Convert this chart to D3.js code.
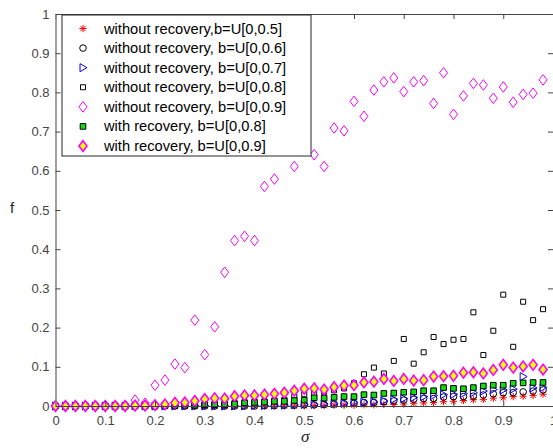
<!DOCTYPE html>
<html>
<head>
<meta charset="utf-8">
<script src="https://cdn.jsdelivr.net/npm/d3@7"></script>
<style>
  html, body { margin: 0; padding: 0; background: #fff; }
  svg { display: block; }
  text { font-family: "Liberation Sans", Arial, sans-serif; }
</style>
</head>
<body>
<svg id="chart" width="553" height="448"></svg>
<script>
// sigma sample points
const sigma = [0.00,0.02,0.04,0.06,0.08,0.10,0.12,0.14,0.16,0.18,
               0.20,0.22,0.24,0.26,0.28,0.30,0.32,0.34,0.36,0.38,
               0.40,0.42,0.44,0.46,0.48,0.50,0.52,0.54,0.56,0.58,
               0.60,0.62,0.64,0.66,0.68,0.70,0.72,0.74,0.76,0.78,
               0.80,0.82,0.84,0.86,0.88,0.90,0.92,0.94,0.96,0.98];

// without recovery, b = U[0,0.5]
const noRec05 = [0,0,0,0,0,0,0,0,0,0,
                 0,0,0,0,0,0,0,0,0,0,
                 0,0,0,0,0,0,0.001,0.001,0.002,0.002,
                 0.002,0.003,0.003,0.004,0.004,0.005,0.007,0.008,0.009,0.011,
                 0.012,0.014,0.016,0.017,0.020,0.021,0.024,0.025,0.027,0.030];
// without recovery, b = U[0,0.6]
const noRec06 = [0,0,0,0,0,0,0,0,0,0,
                 0,0,0,0,0,0,0,0,0,0,
                 0,0.001,0.001,0.002,0.002,0.003,0.003,0.004,0.005,0.006,
                 0.007,0.009,0.009,0.011,0.013,0.015,0.017,0.019,0.019,0.023,
                 0.024,0.024,0.025,0.028,0.031,0.034,0.034,0.036,0.038,0.041];
// without recovery, b = U[0,0.7]
const noRec07 = [0,0,0,0,0,0,0,0,0,0,
                 0,0,0,0,0,0,0,0,0,0,
                 0.001,0.001,0.002,0.002,0.003,0.004,0.004,0.005,0.006,0.007,
                 0.009,0.010,0.011,0.013,0.017,0.019,0.022,0.024,0.027,0.029,
                 0.030,0.032,0.034,0.038,0.042,0.041,0.043,0.075,0.046,0.047];
// without recovery, b = U[0,0.8]
const noRec08 = [0,0,0,0,0,0,0,0,0,0,
                 0.001,0.002,0.002,0.003,0.004,0.005,0.006,0.006,0.008,0.010,
                 0.011,0.012,0.014,0.016,0.024,0.030,0.032,0.036,0.040,0.045,
                 0.058,0.081,0.098,0.083,0.115,0.171,0.108,0.137,0.176,0.158,
                 0.169,0.171,0.239,0.130,0.192,0.284,0.151,0.266,0.219,0.247];
// without recovery, b = U[0,0.9]
const noRec09 = [0,0,0,0,0,0,0,0.001,0.015,0.007,
                 0.053,0.066,0.107,0.098,0.219,0.131,0.202,0.341,0.422,0.433,
                 0.422,0.560,0.579,0.660,0.611,0.670,0.641,0.611,0.709,0.702,
                 0.777,0.739,0.806,0.827,0.837,0.802,0.827,0.830,0.772,0.850,
                 0.744,0.791,0.823,0.819,0.785,0.814,0.775,0.795,0.798,0.832];
// with recovery, b = U[0,0.8]
const rec08 = [0,0,0,0,0,0,0,0,0,0,
               0,0.001,0.001,0.002,0.002,0.003,0.003,0.004,0.005,0.008,
               0.009,0.010,0.012,0.012,0.014,0.015,0.021,0.020,0.022,0.024,
               0.024,0.029,0.028,0.032,0.033,0.035,0.036,0.039,0.039,0.047,
               0.045,0.044,0.047,0.051,0.053,0.053,0.058,0.059,0.060,0.060];
// with recovery, b = U[0,0.9]
const rec09 = [0,0,0,0,0,0,0,0,0.001,0.001,
               0.002,0.004,0.008,0.009,0.013,0.018,0.020,0.019,0.025,0.027,
               0.027,0.029,0.031,0.034,0.039,0.044,0.045,0.042,0.048,0.052,
               0.053,0.060,0.062,0.069,0.064,0.069,0.065,0.066,0.075,0.076,
               0.077,0.085,0.086,0.083,0.092,0.105,0.098,0.101,0.105,0.093];

const xTicks = [0,0.1,0.2,0.3,0.4,0.5,0.6,0.7,0.8,0.9,1];
const xTickLabels = ["0","0.1","0.2","0.3","0.4","0.5","0.6","0.7","0.8","0.9","1"];
const yTicks = [0,0.1,0.2,0.3,0.4,0.5,0.6,0.7,0.8,0.9,1];
const yTickLabels = ["0","0.1","0.2","0.3","0.4","0.5","0.6","0.7","0.8","0.9","1"];

const legendLabels = [
  "without recovery,b=U[0,0.5]",
  "without recovery, b=U[0,0.6]",
  "without recovery, b=U[0,0.7]",
  "without recovery, b=U[0,0.8]",
  "without recovery, b=U[0,0.9]",
  "with recovery, b=U[0,0.8]",
  "with recovery, b=U[0,0.9]"
];

// marker outlines, centred on the origin
const markerPaths = {
  asterisk: "M0,-3.6V3.6M-3.6,0H3.6M-2.6,-2.6L2.6,2.6M-2.6,2.6L2.6,-2.6",
  circle: "M3.3,0A3.3,3.3 0 1 1 -3.3,0A3.3,3.3 0 1 1 3.3,0Z",
  triangleRight: "M-3,-4L4,0L-3,4Z",
  square: "M-2.5,-2.5H2.5V2.5H-2.5Z",
  squareLg: "M-2.8,-2.8H2.8V2.8H-2.8Z",
  diamond: "M0,-5.3L4,0L0,5.3L-4,0Z"
};

const seriesList = [
  { values: noRec05, shape: "asterisk", fill: "none", stroke: "#ff0000", sw: 1 },
  { values: noRec06, shape: "circle", fill: "none", stroke: "#000000", sw: 1 },
  { values: noRec07, shape: "triangleRight", fill: "none", stroke: "#0000ff", sw: 1 },
  { values: noRec08, shape: "square", fill: "none", stroke: "#000000", sw: 1 },
  { values: noRec09, shape: "diamond", fill: "none", stroke: "#ff00ff", sw: 1 },
  { values: rec08, shape: "squareLg", fill: "#11dd11", stroke: "#000000", sw: 1 },
  { values: rec09, shape: "diamond", fill: "#ffff00", stroke: "#ff00ff", sw: 1.6 }
];

const svg = d3.select("#chart");
const plotLeft = 55.5, plotRight = 553, plotTop = 14, plotBottom = 406;

const x = d3.scaleLinear().domain([0, 1]).range([plotLeft, plotRight]);
const y = d3.scaleLinear().domain([0, 1]).range([plotBottom, plotTop]);

const tickColor = "#444";

// data markers, drawn in series order
const plot = svg.append("g");
seriesList.forEach(s => {
  plot.append("g").selectAll("path")
    .data(sigma.map((sx, i) => [sx, s.values[i]]))
    .join("path")
    .attr("transform", d => `translate(${x(d[0])},${y(d[1])})`)
    .attr("d", markerPaths[s.shape])
    .attr("fill", s.fill)
    .attr("stroke", s.stroke)
    .attr("stroke-width", s.sw);
});

// axes: ticks point inward on all four sides
function styleAxis(g) {
  g.select(".domain").attr("stroke", tickColor).attr("stroke-width", 1);
  g.selectAll(".tick line").attr("stroke", tickColor);
  g.selectAll(".tick text")
    .attr("fill", tickColor)
    .style("font-family", '"Liberation Sans", Arial, sans-serif')
    .style("font-size", "13px");
}

svg.append("g")
  .attr("transform", `translate(0,${plotBottom})`)
  .call(d3.axisBottom(x).tickValues(xTicks)
        .tickFormat((d, i) => xTickLabels[i])
        .tickSize(-5).tickSizeOuter(0).tickPadding(10))
  .call(styleAxis);

svg.append("g")
  .attr("transform", `translate(0,${plotTop})`)
  .call(d3.axisTop(x).tickValues(xTicks).tickFormat("")
        .tickSize(-5).tickSizeOuter(0))
  .call(styleAxis);

svg.append("g")
  .attr("transform", `translate(${plotLeft},0)`)
  .call(d3.axisLeft(y).tickValues(yTicks)
        .tickFormat((d, i) => yTickLabels[i])
        .tickSize(-5).tickSizeOuter(0).tickPadding(6))
  .call(styleAxis)
  .call(g => g.select(".domain").attr("stroke", "#888").attr("stroke-width", 1.6));

svg.append("g")
  .attr("transform", `translate(${plotRight},0)`)
  .call(d3.axisRight(y).tickValues(yTicks).tickFormat("")
        .tickSize(-5).tickSizeOuter(0))
  .call(styleAxis);

// axis titles
svg.append("text")
  .attr("x", (plotLeft + plotRight) / 2 + 1)
  .attr("y", 442)
  .attr("text-anchor", "middle")
  .style("font-family", '"Liberation Serif", "DejaVu Serif", serif')
  .style("font-style", "italic")
  .style("font-size", "17px")
  .attr("fill", "#262626")
  .text("σ");

svg.append("text")
  .attr("x", 12)
  .attr("y", (plotTop + plotBottom) / 2 + 3)
  .attr("text-anchor", "middle")
  .style("font-size", "15px")
  .attr("fill", "#262626")
  .text("f");

// legend
const legend = svg.append("g");
legend.append("rect")
  .attr("x", 62).attr("y", 15)
  .attr("width", 249).attr("height", 141)
  .attr("fill", "#fff")
  .attr("stroke", "#262626")
  .attr("stroke-width", 1);

const rowY = d3.scaleLinear().domain([0, 6]).range([28.5, 146]);
seriesList.forEach((s, i) => {
  const row = legend.append("g").attr("transform", `translate(0,${rowY(i)})`);
  row.append("path")
    .attr("transform", "translate(83,0)")
    .attr("d", markerPaths[s.shape])
    .attr("fill", s.fill)
    .attr("stroke", s.stroke)
    .attr("stroke-width", s.sw);
  row.append("text")
    .attr("x", 104)
    .attr("y", 5)
    .style("font-size", "14.7px")
    .attr("fill", "#000")
    .text(legendLabels[i]);
});
</script>
</body>
</html>
